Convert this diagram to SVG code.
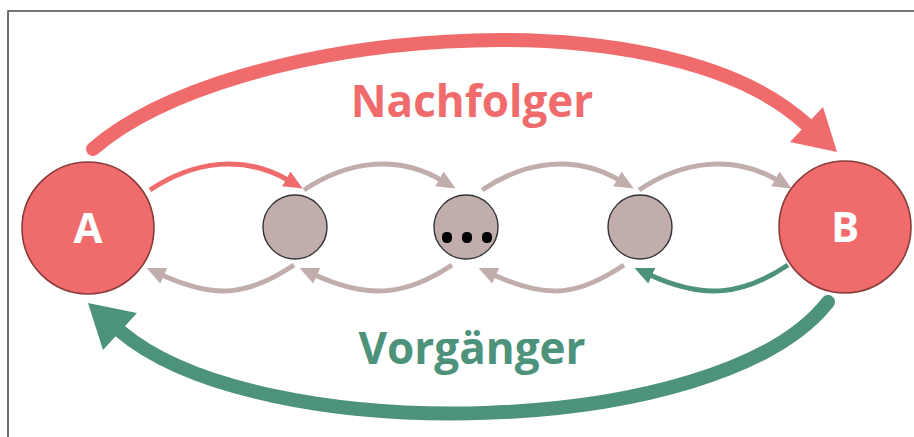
<svg xmlns="http://www.w3.org/2000/svg" width="914" height="437" viewBox="0 0 914 437">
  <style>
    .frame { fill: none; stroke: #4a4a4a; stroke-width: 1.6; }
    .big { fill: #f06b6b; stroke: #8a3c3c; stroke-width: 1.6; }
    .small { fill: #c1aeac; stroke: #333; stroke-width: 1.4; }
    .dot { fill: #000; }
    .lbl { font-family: "Open Sans", "Noto Sans", "Liberation Sans", sans-serif; font-weight: bold; text-anchor: middle; }
    .node-lbl { fill: #fff; font-size: 42px; }
    .title { font-size: 44px; }
    .link { fill: none; stroke-width: 5; }
    .gray { stroke: #c1aeac; }
    .red { stroke: #f06b6b; }
    .green { stroke: #4d927a; }
    .arc { fill: none; stroke-width: 14; stroke-linecap: round; }
  </style>
  <defs>
    <marker id="head-gray" viewBox="0 0 19 17" refX="2" refY="8.5" markerWidth="19" markerHeight="17" markerUnits="userSpaceOnUse" orient="auto">
      <path d="M0,0 L19,8.5 L0,17 z" fill="#c1aeac"/>
    </marker>
    <marker id="head-red" viewBox="0 0 19 17" refX="2" refY="8.5" markerWidth="19" markerHeight="17" markerUnits="userSpaceOnUse" orient="auto">
      <path d="M0,0 L19,8.5 L0,17 z" fill="#f06b6b"/>
    </marker>
    <marker id="head-green" viewBox="0 0 19 17" refX="2" refY="8.5" markerWidth="19" markerHeight="17" markerUnits="userSpaceOnUse" orient="auto">
      <path d="M0,0 L19,8.5 L0,17 z" fill="#4d927a"/>
    </marker>
  </defs>

  <!-- frame -->
  <path class="frame" d="M8,437 L8,11 L914,11"/>

  <!-- connectors -->
  <g id="connectors">
    <!-- successor arc A -> B -->
    <path class="arc" stroke="#f06b6b" d="M93,149 C230,30 660,-10 806,124"/>
    <polygon points="837,152 790,142 823,107" fill="#f06b6b"/>
    <!-- predecessor arc B -> A -->
    <path class="arc" stroke="#4d927a" d="M828,302 C720,440 260,450 120,331"/>
    <polygon points="88,303 137,313 103,350" fill="#4d927a"/>

    <!-- forward links -->
    <path class="link red" marker-end="url(#head-red)" d="M150,190 C195,160 245,155 288,180"/>
    <path class="link gray" marker-end="url(#head-gray)" d="M304,190 C349,160 398,155 441,180"/>
    <path class="link gray" marker-end="url(#head-gray)" d="M482,190 C527,160 576,155 619,180"/>
    <path class="link gray" marker-end="url(#head-gray)" d="M639,190 C684,160 734,155 777,180"/>

    <!-- backward links -->
    <path class="link gray" marker-end="url(#head-gray)" d="M294,265 C249,295 217,300 162,275"/>
    <path class="link gray" marker-end="url(#head-gray)" d="M452,265 C407,295 370,300 315,275"/>
    <path class="link gray" marker-end="url(#head-gray)" d="M624,265 C579,295 549,300 494,275"/>
    <path class="link green" marker-end="url(#head-green)" d="M788,265 C743,295 705,300 650,275"/>
  </g>

  <g id="node-a">
    <circle class="big" cx="88" cy="228" r="66"/>
    <text class="lbl node-lbl" x="88" y="243">A</text>
  </g>
  <g id="node-1">
    <circle class="small" cx="295" cy="227" r="32"/>
  </g>
  <g id="node-2">
    <circle class="small" cx="466" cy="227" r="32"/>
    <rect class="dot" x="442" y="232" width="10" height="11" rx="4.5"/>
    <rect class="dot" x="462" y="232" width="10" height="11" rx="4.5"/>
    <rect class="dot" x="482" y="232" width="10" height="11" rx="4.5"/>
  </g>
  <g id="node-3">
    <circle class="small" cx="640" cy="227" r="32"/>
  </g>
  <g id="node-b">
    <circle class="big" cx="845" cy="227" r="66"/>
    <text class="lbl node-lbl" x="845" y="242">B</text>
  </g>

  <text class="lbl title" x="472" y="117" fill="#f06b6b">Nachfolger</text>
  <text class="lbl title" x="472" y="364" fill="#4d927a">Vorgänger</text>
</svg>
